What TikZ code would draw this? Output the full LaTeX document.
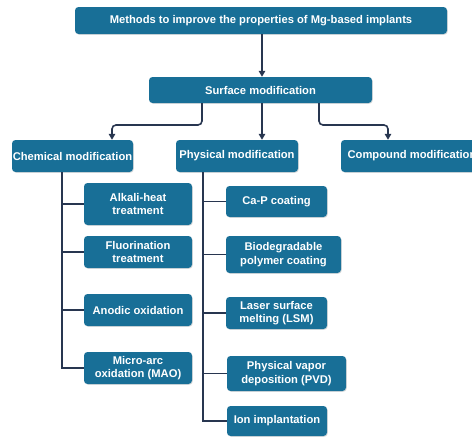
\documentclass[tikz,border=0pt]{standalone}
\usepackage{fontspec}
\setmainfont{Liberation Sans}
\usetikzlibrary{arrows.meta,shadows}
\definecolor{boxblue}{RGB}{24,111,151}
\definecolor{linenavy}{RGB}{40,54,80}
\tikzset{
  box/.style={fill=boxblue, rounded corners=3.5pt, text=white, align=center,
    font=\fontsize{11.2}{13.3}\selectfont\bfseries, inner sep=0pt,
    drop shadow={opacity=0.25, shadow xshift=0.8pt, shadow yshift=-0.8pt}},
  conn/.style={draw=linenavy, line width=1.6pt},
  arr/.style={conn, -{Triangle[width=6.5pt,length=6pt]}, rounded corners=4pt},
}
\begin{document}
\begin{tikzpicture}[x=1pt,y=-1pt]
\useasboundingbox (0,0) rectangle (472,437);
\clip (0,0) rectangle (472,437);
\fill[white] (0,0) rectangle (472,437);
% main boxes
\node[box, minimum width=372pt, minimum height=27pt] (top) at (261,20.5) {Methods to improve the properties of Mg-based implants};
\node[box, minimum width=223pt, minimum height=26pt] (surf) at (260.5,90) {Surface modification};
\node[box, minimum width=121pt, minimum height=32pt] (chem) at (72.5,156) {Chemical modification};
\node[box, minimum width=122pt, minimum height=32pt] (phys) at (237,156) {Physical modification};
\node[box, minimum width=142pt, minimum height=32pt] (comp) at (412,156) {Compound modification};
% chemical children
\node[box, minimum width=108pt, minimum height=42pt] (alk) at (138,204) {Alkali-heat\\treatment};
\node[box, minimum width=108pt, minimum height=32pt] (flu) at (138,252) {Fluorination\\treatment};
\node[box, minimum width=108pt, minimum height=32pt] (ano) at (138,310) {Anodic oxidation};
\node[box, minimum width=108pt, minimum height=32pt] (mao) at (138,368) {Micro-arc\\oxidation (MAO)};
% physical children
\node[box, minimum width=101pt, minimum height=31pt] (cap) at (276.5,201.5) {Ca-P coating};
\node[box, minimum width=115pt, minimum height=37pt] (bio) at (283.5,254.5) {Biodegradable\\polymer coating};
\node[box, minimum width=101pt, minimum height=32pt] (las) at (276.5,313) {Laser surface\\melting (LSM)};
\node[box, minimum width=119pt, minimum height=35pt] (pvd) at (286.5,373.5) {Physical vapor\\deposition (PVD)};
\node[box, minimum width=100pt, minimum height=30pt] (ion) at (277,421) {Ion implantation};
% arrows
\draw[arr] (top.south -| 262,0) -- (surf.north -| 262,0);
\coordinate (sl) at (202,103);
\coordinate (sm) at (262,103);
\coordinate (sr) at (319,103);
\draw[arr] (sl) -- (202,125) -- (112,125) -- (chem.north -| 112,0);
\draw[arr] (sm) -- (phys.north -| 262,0);
\draw[arr] (sr) -- (319,125) -- (388,125) -- (comp.north -| 388,0);
% chemical tree
\coordinate (cv) at (62,172);
\draw[conn] (cv) |- (mao.west);
\draw[conn] (cv |- alk.west) -- (alk.west);
\draw[conn] (cv |- flu.west) -- (flu.west);
\draw[conn] (cv |- ano.west) -- (ano.west);
% physical tree
\coordinate (pv) at (203,172);
\draw[conn] (pv) |- (ion.west);
\draw[conn] (pv |- cap.west) -- (cap.west);
\draw[conn] (pv |- bio.west) -- (bio.west);
\draw[conn] (pv |- las.west) -- (las.west);
\draw[conn] (pv |- pvd.west) -- (pvd.west);
\end{tikzpicture}
\end{document}
